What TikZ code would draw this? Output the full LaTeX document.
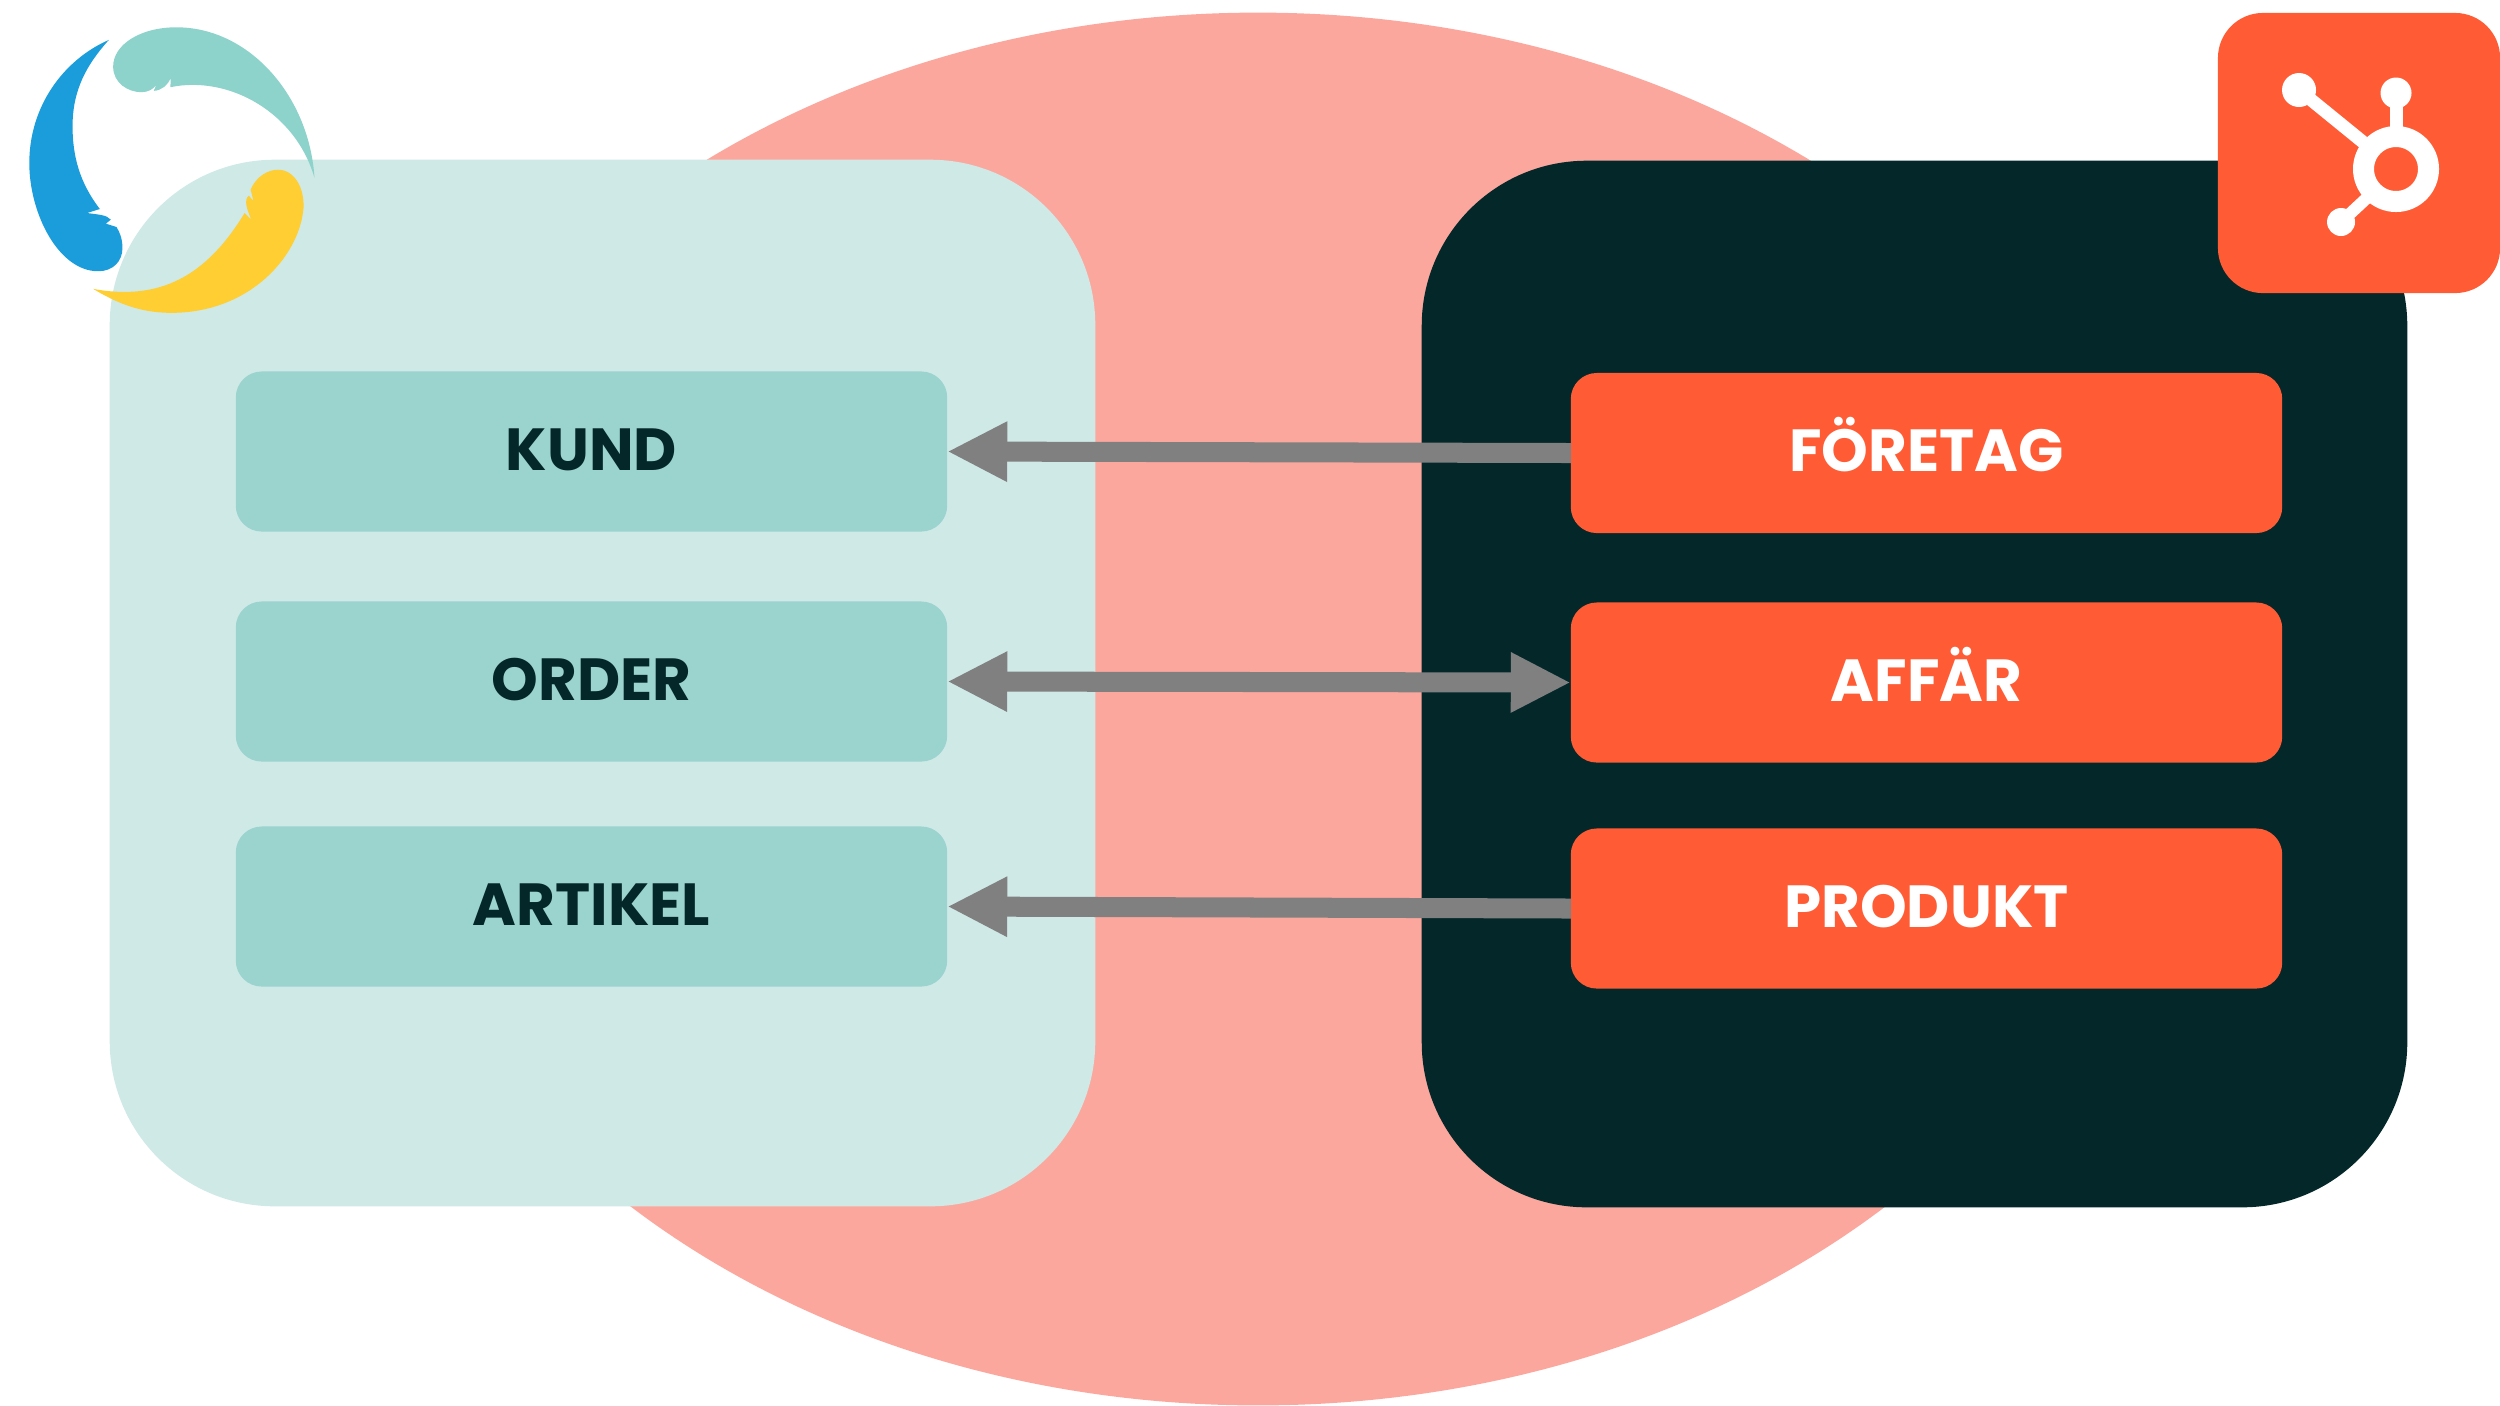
\documentclass[tikz,border=0pt]{standalone}
\usepackage{fontspec}
\setmainfont{Poppins}
\usepackage{xcolor}
\definecolor{PaleTeal}{HTML}{CFE9E6}
\definecolor{BoxTeal}{HTML}{9BD3CE}
\definecolor{Salmon}{HTML}{FCA79D}
\definecolor{DarkTeal}{HTML}{042729}
\definecolor{SpotOrange}{HTML}{FF5C35}
\definecolor{ArrowGrey}{HTML}{808080}
\definecolor{FeatherBlue}{HTML}{1B9DDB}
\definecolor{FeatherTeal}{HTML}{8DD3CB}
\definecolor{FeatherGold}{HTML}{FFCE33}
\usepackage{tikz}
\usetikzlibrary{shapes.geometric, arrows.meta, positioning}

\begin{document}
\begin{tikzpicture}[
  x=0.01cm, y=-0.01cm,
  panel/.style={rectangle, rounded corners=1.65cm, inner sep=0pt, outer sep=0pt,
    minimum width=9.85cm, minimum height=10.46cm},
  rowbox/.style={rectangle, rounded corners=0.26cm, inner sep=0pt, outer sep=0pt,
    minimum width=7.11cm, minimum height=1.6cm, text height=0.415cm, text depth=0.04cm,
    font=\fontsize{16.9}{20}\selectfont\bfseries},
  kundbox/.style={rowbox, fill=BoxTeal, text=DarkTeal},
  spotbox/.style={rowbox, fill=SpotOrange, text=white},
  arr/.style={>={Triangle[length=0.6cm, width=0.56cm]}, line width=0.2cm, color=ArrowGrey}
]
  \useasboundingbox (0,0) rectangle (2500,1405);

  \node[ellipse, fill=Salmon, inner sep=0pt, outer sep=0pt,
    minimum width=17.92cm, minimum height=13.92cm] (oval) at (1258,709) {};

  \node[panel, fill=PaleTeal] (left)  at (602.5,683) {};
  \node[panel, fill=DarkTeal] (right) at (1914.5,684) {};

  \node[kundbox] (kund)    at (591.5,451.5) {KUND};
  \node[kundbox] (order)   at (591.5,681.5) {ORDER};
  \node[kundbox] (artikel) at (591.5,906.5) {ARTIKEL};

  \node[spotbox] (foretag) at (1926.5,453) {FÖRETAG};
  \node[spotbox] (affar)   at (1926.5,682.5) {AFFÄR};
  \node[spotbox] (produkt) at (1926.5,908.5) {PRODUKT};

  \draw[arr, <-] (kund.east) -- (foretag.west);
  \draw[arr, <->] (order.east) -- (affar.west);
  \draw[arr, <-] (artikel.east) -- (produkt.west);

  \begin{scope}[x=0.00333cm, y=-0.00333cm]
    \fill[FeatherBlue] (327,120) .. controls (190,180) and (88,320) .. (88,490)
      .. controls (88,640) and (175,815) .. (295,815)
      .. controls (340,815) and (368,785) .. (368,745)
      .. controls (368,715) and (358,695) .. (350,682)
      -- (318,672) -- (333,660) .. controls (320,645) and (295,645) .. (262,640)
      -- (300,628) .. controls (240,550) and (218,470) .. (218,380)
      .. controls (218,270) and (260,195) .. (327,120) -- cycle;
    \fill[FeatherTeal] (945,535) .. controls (930,290) and (750,82) .. (530,82)
      .. controls (420,82) and (340,135) .. (340,200)
      .. controls (340,250) and (385,277) .. (425,277)
      .. controls (445,277) and (460,268) .. (470,255)
      -- (462,273) .. controls (485,272) and (505,255) .. (513,235)
      -- (512,262) .. controls (690,225) and (890,340) .. (945,535) -- cycle;
    \fill[FeatherGold] (280,868) .. controls (480,905) and (620,830) .. (735,640)
      -- (755,660) .. controls (745,635) and (730,600) .. (748,588)
      -- (762,605) -- (753,570)
      .. controls (770,530) and (805,510) .. (835,510)
      .. controls (885,510) and (915,565) .. (912,625)
      .. controls (900,770) and (750,940) .. (515,940)
      .. controls (420,940) and (350,910) .. (280,868) -- cycle;
  \end{scope}

  \node[rectangle, rounded corners=0.45cm, fill=SpotOrange, inner sep=0pt, outer sep=0pt,
    minimum width=2.82cm, minimum height=2.8cm] (badge) at (2359,153) {};

  \draw[white, line width=0.13cm] (2299,90) -- (2369,147);
  \draw[white, line width=0.13cm] (2396,93) -- (2396,135);
  \draw[white, line width=0.12cm] (2341,222) -- (2369,196);
  \draw[white, line width=0.21cm] (2396,169) circle (32.5);
  \fill[white] (2299,90) circle (17);
  \fill[white] (2396,93) circle (15.5);
  \fill[white] (2341,222) circle (14);
\end{tikzpicture}
\end{document}
